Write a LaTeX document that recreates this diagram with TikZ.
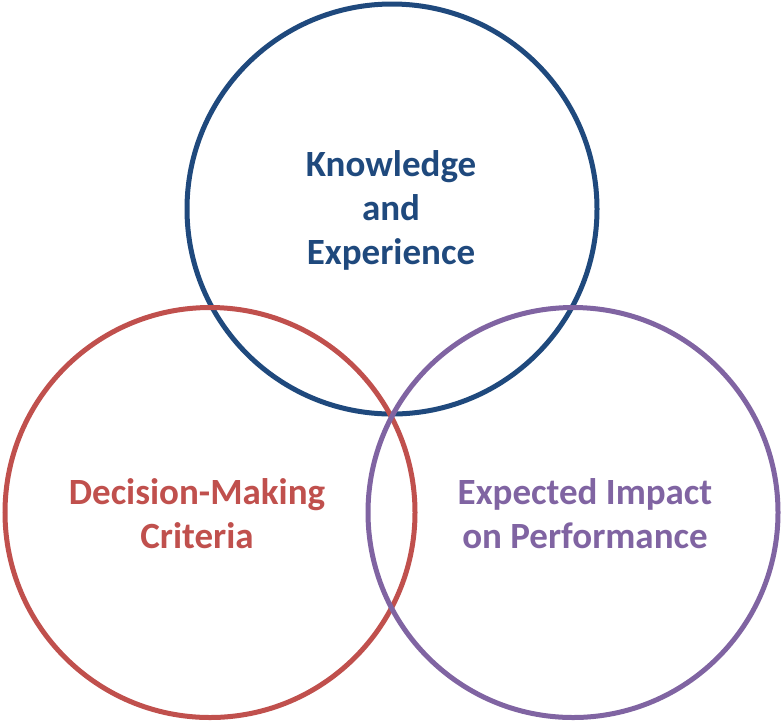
\documentclass[tikz,border=0pt]{standalone}
\usepackage{fontspec}
\setmainfont{Carlito}
\definecolor{kblue}{HTML}{1F497D}
\definecolor{kred}{HTML}{C0504D}
\definecolor{kpurple}{HTML}{8064A2}
\begin{document}
\begin{tikzpicture}[x=1pt,y=-1pt,
  ring/.style={circle,draw=#1,line width=5pt,minimum size=410pt,inner sep=0pt},
  lbl/.style={text=#1,font=\fontsize{37}{44}\selectfont\bfseries,align=center,inner sep=0pt}]
\useasboundingbox (0,0) rectangle (783,724);
\node[ring=kblue] (top) at (392,209) {};
\node[ring=kred] (left) at (210,512.5) {};
\node[ring=kpurple] (right) at (573,512.5) {};
\node[lbl=kblue] (ttop) at (391,210) {Knowledge\\and\\Experience};
\node[lbl=kred] (tleft) at (197,514) {Decision-Making\\Criteria};
\node[lbl=kpurple] (tright) at (585,514) {Expected Impact\\on Performance};
\end{tikzpicture}
\end{document}
